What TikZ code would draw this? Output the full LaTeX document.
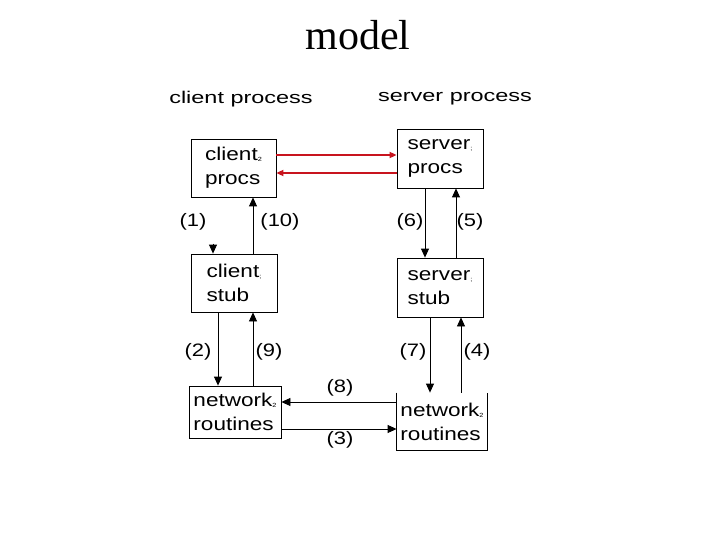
\documentclass[tikz,border=0pt]{standalone}
\usepackage{fontspec}
\usepackage{tikz}
\usetikzlibrary{arrows.meta,positioning}
\setmainfont{Liberation Serif}
\newfontfamily\boxfont[FakeStretch=1.22]{Liberation Sans}
\newfontfamily\headfont[FakeStretch=1.38]{Liberation Sans}
\definecolor{rpcred}{HTML}{C8141E}
\newcommand{\smallmark}[1]{\raisebox{-1pt}{\fontsize{6}{6}\selectfont #1}}

\begin{document}
\begin{tikzpicture}[
  x=1pt,y=-1pt,
  box/.style={draw,line width=0.8pt,inner sep=0pt,align=left,font=\boxfont\fontsize{18.5}{24}\selectfont},
  tag/.style={font=\boxfont\fontsize{18}{20}\selectfont,inner sep=0pt},
  head/.style={font=\headfont\fontsize{17}{20}\selectfont,inner sep=0pt},
  arrow/.style={-{Triangle[length=9pt,width=8pt]},line width=0.8pt},
  rpc/.style={-{Triangle[length=7pt,width=6pt]},line width=1.8pt,draw=rpcred}
]
  \useasboundingbox (0,0) rectangle (720,540);
  \node[font=\fontsize{42}{46}\selectfont,anchor=base,inner sep=0pt] (title) at (358,50) {model};
  \node[head] (chead) at (241,99) {client process};
  \node[head] (shead) at (455,99) {server process};
  % client side
  \node[box,minimum width=85pt,minimum height=58pt] (cprocs) at (233.5,168) {client\smallmark{2}\\procs};
  \node[box,minimum width=86pt,minimum height=58pt] (cstub) at (234,283) {client\smallmark{;}\\stub};
  \node[box,minimum width=92pt,minimum height=52pt] (cnet) at (235,412) {network\smallmark{2}\\routines};
  % server side
  \node[box,minimum width=86pt,minimum height=59pt] (sprocs) at (440,158.5) {server\smallmark{;}\\procs};
  \node[box,minimum width=86pt,minimum height=59pt] (sstub) at (440,287.5) {server\smallmark{;}\\stub};
  \node[box,draw=none,minimum width=90pt,minimum height=57pt] (snet) at (442,421.5) {network\smallmark{2}\\routines};
  \draw[line width=0.8pt] (snet.north west)--(snet.south west)--(snet.south east)--(snet.north east);
  % calls between procs
  \draw[rpc] ([yshift=13pt]cprocs.east)--([yshift=13pt]cprocs.east -| sprocs.west);
  \draw[rpc] ([yshift=-14.5pt]sprocs.west)--([yshift=-14.5pt]sprocs.west -| cprocs.east);
  % vertical steps
  \draw[arrow] ([xshift=-21pt,yshift=10pt]cstub.north)--([xshift=-21pt]cstub.north);
  \draw[arrow] ([xshift=19pt]cstub.north)--([xshift=19pt]cstub.north |- cprocs.south);
  \draw[arrow] ([xshift=-16pt]cstub.south)--([xshift=-16pt]cstub.south |- cnet.north);
  \draw[arrow] ([xshift=18pt]cnet.north)--([xshift=18pt]cnet.north |- cstub.south);
  \draw[arrow] ([xshift=-15pt]sprocs.south)--([xshift=-15pt]sprocs.south |- sstub.north);
  \draw[arrow] ([xshift=16pt]sstub.north)--([xshift=16pt]sstub.north |- sprocs.south);
  \draw[arrow] ([xshift=-10pt]sstub.south)--([xshift=-10pt]sstub.south |- snet.north);
  \draw[arrow] ([xshift=19pt]snet.north)--([xshift=19pt]snet.north |- sstub.south);
  % network messages
  \draw[arrow] ([yshift=19.5pt]snet.west)--([yshift=19.5pt]snet.west -| cnet.east);
  \draw[arrow] ([yshift=-17pt]cnet.east)--([yshift=-17pt]cnet.east -| snet.west);
  % step numbers
  \node[tag] (n1) at (193,222) {(1)};
  \node[tag] (n10) at (280,222) {(10)};
  \node[tag] (n6) at (410,222) {(6)};
  \node[tag] (n5) at (470,222) {(5)};
  \node[tag] (n2) at (198,352) {(2)};
  \node[tag] (n9) at (269,352) {(9)};
  \node[tag] (n7) at (413,352) {(7)};
  \node[tag] (n4) at (477,352) {(4)};
  \node[tag] (n8) at (340,388) {(8)};
  \node[tag] (n3) at (340,440) {(3)};
\end{tikzpicture}
\end{document}
